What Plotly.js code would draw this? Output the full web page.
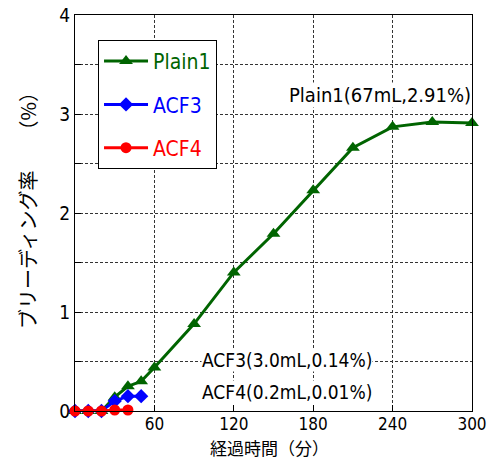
<!DOCTYPE html>
<html><head><meta charset="utf-8">
<script src="https://cdn.plot.ly/plotly-3.0.1.min.js"></script>
<style>html,body{margin:0;padding:0;background:#fff}</style>
</head><body>
<div id="chart" style="width:494px;height:459px"></div>
<script>
var timePlain = [0,10,20,30,40,50,60,90,120,150,180,210,240,270,300];
var plain1 = [0,0,0,0.14,0.25,0.30,0.44,0.88,1.40,1.79,2.23,2.66,2.87,2.92,2.91];
var timeAcf3 = [0,10,20,30,40,50];
var acf3 = [0,0,0,0.10,0.15,0.15];
var timeAcf4 = [0,10,20,30,40];
var acf4 = [0,0,0,0.01,0.01];
var xTicks = [0,60,120,180,240,300];
var xTickText = ["","60","120","180","240","300"];
var yTicks = [0,0.5,1,1.5,2,2.5,3,3.5,4];
var yTickText = ["0","","1","","2","","3","","4"];
var seriesNames = ["Plain1","ACF3","ACF4"];
var colors = ["#006400","#0000FF","#FF0000"];

var NARROW = "DejaVu Sans Condensed, Noto Sans CJK JP, sans-serif";
var CJK = "Noto Sans CJK JP, sans-serif";

function nm(i){ return '<span style="color:'+colors[i]+'">'+seriesNames[i]+'</span>'; }

var traces = [
  {x: timePlain, y: plain1, mode: 'lines+markers', name: nm(0), legendgroup:'a', cliponaxis:false,
   line:{color:colors[0], width:3}, marker:{symbol:'triangle-up', size:12, color:colors[0]}},
  {x: timeAcf3, y: acf3, mode: 'lines+markers', name: nm(1), legendgroup:'b', cliponaxis:false,
   line:{color:colors[1], width:3}, marker:{symbol:'diamond', size:11, color:colors[1]}},
  {x: timeAcf4, y: acf4, mode: 'lines+markers', name: nm(2), legendgroup:'c', cliponaxis:false,
   line:{color:colors[2], width:3}, marker:{symbol:'circle', size:11, color:colors[2]}}
];

var gridStyle = {gridcolor:'#333', gridwidth:1, griddash:'3px,2px'};

var layout = {
  width:494, height:459,
  margin:{l:75, r:22, t:15, b:48},
  paper_bgcolor:'#fff', plot_bgcolor:'#fff',
  showlegend:true,
  legend:{x:0.058, y:0.937, xanchor:'left', yanchor:'top', bgcolor:'#fff',
          bordercolor:'#000', borderwidth:1, font:{family:NARROW, size:21, color:'#000'},
          tracegroupgap:13, itemwidth:44},
  xaxis:Object.assign({range:[0,300], tickvals:xTicks, ticktext:xTickText, showgrid:true,
          ticks:'inside', ticklen:6, tickcolor:'#000', showline:true, linecolor:'#000', linewidth:1,
          mirror:true, zeroline:false, ticklabelstandoff:-2,
          tickfont:{family:NARROW, size:17, color:'#000'}}, gridStyle),
  yaxis:Object.assign({range:[0,4], tickvals:yTicks, ticktext:yTickText, showgrid:true,
          ticks:'inside', ticklen:6, tickcolor:'#000', showline:true, linecolor:'#000', linewidth:1,
          mirror:true, zeroline:false, tickfont:{family:NARROW, size:19, color:'#000'}}, gridStyle),
  annotations:[
    {xref:'x', yref:'y', x:300, y:3.19, xanchor:'right', yanchor:'middle', showarrow:false,
     text:'Plain1(67mL,2.91%)', bgcolor:'#fff', borderpad:0, font:{family:NARROW, size:20, color:'#000'}},
    {xref:'x', yref:'y', x:225, y:0.52, xanchor:'right', yanchor:'middle', showarrow:false,
     text:'ACF3(3.0mL,0.14%)', bgcolor:'#fff', borderpad:0, font:{family:NARROW, size:19, color:'#000'}},
    {xref:'x', yref:'y', x:225, y:0.19, xanchor:'right', yanchor:'middle', showarrow:false,
     text:'ACF4(0.2mL,0.01%)', bgcolor:'#fff', borderpad:0, font:{family:NARROW, size:19, color:'#000'}},
    {xref:'paper', yref:'paper', x:0.491, y:-0.093, xanchor:'center', yanchor:'middle', showarrow:false,
     text:'経過時間（分）', font:{family:CJK, size:17, color:'#000'}},
    {xref:'paper', yref:'paper', x:-0.118, y:0.518, xanchor:'center', yanchor:'middle', showarrow:false,
     textangle:-90, text:'ブリーディング率　　（%）', font:{family:CJK, size:20, color:'#000'}}
  ]
};

Plotly.newPlot('chart', traces, layout, {displayModeBar:false, staticPlot:true});
</script>
</body></html>
